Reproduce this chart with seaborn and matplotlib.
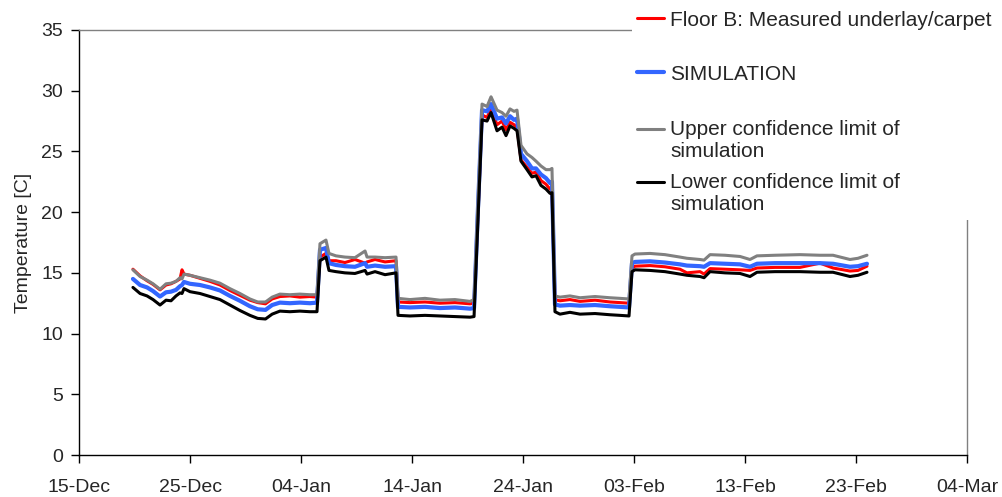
import numpy as np
import pandas as pd
import matplotlib
matplotlib.use("Agg")
import matplotlib.pyplot as plt
import matplotlib.dates as mdates
from matplotlib.lines import Line2D
from matplotlib.patches import Rectangle
from matplotlib.legend_handler import HandlerLine2D
import seaborn as sns

# Time of each reading, in days after 15-Dec
days = [4.86, 5.50, 6.13, 6.67, 7.30, 7.84, 8.29, 8.74, 9.10, 9.28,
        9.46, 10.0, 10.9, 11.8, 12.7, 13.6, 14.5, 15.4, 16.1, 16.8,
        17.4, 18.1, 19.0, 19.9, 20.8, 21.44, 21.71, 22.25, 22.52, 23.15,
        23.96, 24.86, 25.77, 25.95, 26.67, 27.57, 28.56, 28.74, 29.82, 31.17,
        32.52, 33.87, 35.23, 35.59, 35.95, 36.31, 36.76, 37.12, 37.66, 38.11,
        38.47, 38.83, 39.19, 39.46, 39.82, 40.36, 40.81, 41.17, 41.62, 42.07,
        42.43, 42.61, 42.88, 43.33, 44.23, 45.14, 46.49, 47.84, 48.74, 49.55,
        49.82, 50.09, 51.44, 52.79, 54.14, 54.77, 55.95, 56.31, 56.85, 58.2,
        59.55, 60.45, 61.08, 62.7, 64.95, 66.76, 67.93, 69.46, 70.18, 70.99]

measured = [15.3, 14.75, 14.35, 14.05, 13.6, 14.0, 14.1, 14.3, 14.5, 15.25,
            14.9, 14.8, 14.55, 14.3, 14.0, 13.55, 13.15, 12.75, 12.55, 12.45,
            12.85, 13.05, 13.1, 13.0, 13.05, 13.0, 16.3, 16.6, 16.0, 16.0,
            15.85, 16.1, 15.8, 15.9, 16.1, 15.9, 16.0, 12.6, 12.55, 12.6,
            12.5, 12.55, 12.45, 12.5, 20.0, 28.0, 27.8, 28.5, 27.2, 27.5,
            26.8, 27.4, 27.2, 27.0, 24.3, 23.7, 23.2, 23.3, 22.6, 22.3,
            21.9, 22.0, 12.8, 12.7, 12.8, 12.65, 12.75, 12.6, 12.55, 12.5,
            15.4, 15.55, 15.6, 15.5, 15.3, 15.0, 15.1, 14.9, 15.35, 15.3,
            15.25, 15.2, 15.4, 15.45, 15.45, 15.8, 15.4, 15.15, 15.2, 15.55]

simulation = [14.5, 14.0, 13.8, 13.5, 13.05, 13.4, 13.45, 13.6, 13.9, 14.0,
              14.25, 14.1, 14.0, 13.8, 13.55, 13.1, 12.7, 12.25, 12.0, 11.95,
              12.35, 12.55, 12.5, 12.55, 12.5, 12.55, 16.9, 17.05, 15.8, 15.65,
              15.55, 15.5, 15.8, 15.5, 15.6, 15.5, 15.55, 12.2, 12.15, 12.2,
              12.1, 12.15, 12.05, 12.1, 20.5, 28.4, 28.3, 28.9, 27.7, 27.8,
              27.3, 27.9, 27.6, 27.7, 24.8, 24.2, 23.6, 23.6, 23.1, 22.8,
              22.4, 22.5, 12.4, 12.3, 12.35, 12.3, 12.35, 12.25, 12.2, 12.15,
              15.8, 15.9, 15.95, 15.85, 15.7, 15.6, 15.55, 15.5, 15.8, 15.75,
              15.7, 15.5, 15.75, 15.8, 15.8, 15.8, 15.75, 15.5, 15.55, 15.75]

upper = [15.25, 14.7, 14.4, 14.1, 13.65, 14.1, 14.15, 14.3, 14.6, 14.5,
         14.9, 14.8, 14.6, 14.4, 14.15, 13.7, 13.3, 12.85, 12.6, 12.6,
         13.0, 13.25, 13.2, 13.25, 13.2, 13.2, 17.4, 17.7, 16.6, 16.4,
         16.3, 16.25, 16.8, 16.3, 16.3, 16.25, 16.3, 12.9, 12.8, 12.9,
         12.75, 12.8, 12.65, 12.8, 21.0, 28.9, 28.7, 29.5, 28.4, 28.2,
         27.9, 28.5, 28.3, 28.4, 25.5, 24.8, 24.5, 24.2, 23.8, 23.5,
         23.5, 23.6, 13.1, 13.0, 13.1, 12.95, 13.05, 12.95, 12.9, 12.85,
         16.4, 16.55, 16.6, 16.5, 16.3, 16.2, 16.1, 16.05, 16.5, 16.45,
         16.35, 16.1, 16.4, 16.45, 16.5, 16.45, 16.45, 16.1, 16.2, 16.45]

lower = [13.8, 13.3, 13.1, 12.8, 12.35, 12.75, 12.7, 13.1, 13.35, 13.3,
         13.7, 13.45, 13.3, 13.05, 12.8, 12.35, 11.9, 11.5, 11.25, 11.2,
         11.6, 11.85, 11.8, 11.85, 11.8, 11.8, 16.0, 16.3, 15.2, 15.1,
         15.0, 14.95, 15.2, 14.9, 15.1, 14.85, 15.0, 11.5, 11.45, 11.5,
         11.45, 11.4, 11.35, 11.4, 19.5, 27.6, 27.5, 28.2, 26.7, 27.0,
         26.3, 27.1, 26.9, 26.7, 24.2, 23.5, 22.9, 23.0, 22.2, 21.9,
         21.55, 21.6, 11.8, 11.6, 11.75, 11.6, 11.65, 11.55, 11.5, 11.45,
         15.1, 15.25, 15.2, 15.1, 14.9, 14.8, 14.7, 14.6, 15.1, 15.0,
         14.95, 14.7, 15.05, 15.1, 15.1, 15.05, 15.05, 14.7, 14.8, 15.05]

series_labels = ["Floor B: Measured underlay/carpet",
                 "SIMULATION",
                 "Upper confidence limit of\nsimulation",
                 "Lower confidence limit of\nsimulation"]
series_values = [measured, simulation, upper, lower]
series_colors = ["#FF0000", "#3366FF", "#808080", "#000000"]
series_widths = [2.2, 3.0, 2.2, 2.2]

start = pd.Timestamp("2007-12-15")
dates = start + pd.to_timedelta(days, unit="D")

frames = []
for label, vals in zip(series_labels, series_values):
    frames.append(pd.DataFrame({"date": dates, "temp": vals, "series": label}))
df = pd.concat(frames, ignore_index=True)

sns.set_style("white")
plt.rcParams["font.family"] = ["Liberation Sans", "DejaVu Sans"]

W, H = 1003, 497
fig = plt.figure(figsize=(W / 100, H / 100), dpi=100)
ax = fig.add_axes([79 / W, 42 / H, (967 - 79) / W, (455 - 30) / H])

for label, color, lw in zip(series_labels, series_colors, series_widths):
    sns.lineplot(data=df[df["series"] == label], x="date", y="temp",
                 color=color, linewidth=lw, ax=ax, legend=False,
                 estimator=None, sort=False)

tick_dates = pd.date_range(start, periods=9, freq="10D")
ax.set_xlim(tick_dates[0], tick_dates[-1])
ax.set_xticks(tick_dates)
ax.xaxis.set_major_formatter(mdates.DateFormatter("%d-%b"))
ax.set_ylim(0, 35)
ax.set_yticks(np.arange(0, 36, 5))
ax.set_xlabel("")
ax.set_ylabel("Temperature [C]", fontsize=14, labelpad=6.5)

ax.tick_params(axis="both", direction="out", length=5.5, width=1.0,
               color="black", labelsize=14, left=True, bottom=True)
ax.tick_params(axis="x", pad=12)
ax.tick_params(axis="y", pad=6)

for side in ["left", "bottom"]:
    ax.spines[side].set_color("black")
    ax.spines[side].set_linewidth(1.0)
for side in ["top", "right"]:
    ax.spines[side].set_visible(True)
    ax.spines[side].set_color("#808080")
    ax.spines[side].set_linewidth(1.0)

# legend panel sits over the top-right corner of the frame
fig.patches.append(Rectangle((632 / W, 1 - 220 / H), 1 - 632 / W, 220 / H,
                             transform=fig.transFigure, facecolor="white",
                             edgecolor="none", zorder=3))


class FirstLineHandler(HandlerLine2D):
    """Line key placed beside the first line of a multi-line label."""

    def __init__(self, lift=0.0, **kw):
        super().__init__(**kw)
        self.lift = lift

    def create_artists(self, legend, orig_handle, xdescent, ydescent,
                       width, height, fontsize, trans):
        artists = super().create_artists(legend, orig_handle, xdescent, ydescent,
                                         width, height, fontsize, trans)
        for art in artists:
            art.set_ydata(np.asarray(art.get_ydata(), dtype=float) + self.lift)
        return artists


legend_rows = [20, 74, 140, 193]
for label, color, lw, yc in zip(series_labels, series_colors, series_widths, legend_rows):
    handle = Line2D([], [], color=color, linewidth=lw)
    n_lines = label.count("\n") + 1
    lift = 8.3 if n_lines > 1 else 0.0
    leg = fig.legend([handle], [label], loc="center left",
                     bbox_to_anchor=(637 / W, 1 - yc / H),
                     frameon=False, fontsize=15, handlelength=1.29,
                     handletextpad=0.3, borderpad=0, borderaxespad=0,
                     handler_map={handle: FirstLineHandler(lift=lift)})
    leg.set_zorder(5)

fig.savefig("out.png", dpi=100, facecolor="white")
